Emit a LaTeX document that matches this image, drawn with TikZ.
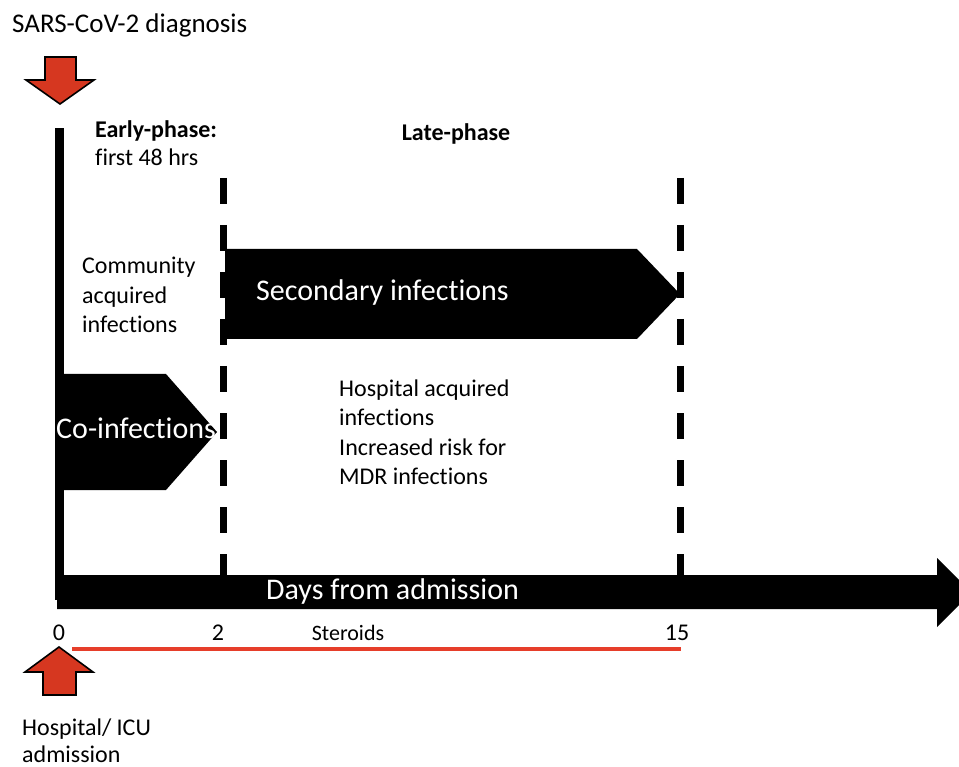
\documentclass[tikz,border=0pt]{standalone}
\usepackage{fontspec}
\setmainfont{Carlito}[Ligatures={TeX,NoCommon}]
\definecolor{arrowred}{RGB}{214,55,32}
\definecolor{linered}{RGB}{230,62,42}
\begin{document}
\begin{tikzpicture}[x=1pt,y=-1pt,
  lbl/.style={inner sep=0pt, anchor=base west, font=\fontsize{24}{29}\selectfont},
  lblb/.style={lbl, font=\fontsize{24}{29}\selectfont\bfseries},
  big/.style={inner sep=0pt, anchor=base west, text=white, font=\fontsize{30}{36}\selectfont},
  tick/.style={inner sep=0pt, anchor=base, font=\fontsize{24}{29}\selectfont},
  phaseline/.style={line width=7pt, dash pattern=on 26pt off 21pt},
  redarrow/.style={fill=arrowred, draw=black, line width=1.6pt, line join=miter},
  blackshape/.style={fill=black}
]
\useasboundingbox (0,0) rectangle (959,767);
\clip (0,0) rectangle (959,767);

% dashed phase lines
\coordinate (d1t) at (223.5,178); \coordinate (d1b) at (223.5,578);
\coordinate (d2t) at (680.5,178); \coordinate (d2b) at (680.5,578);
\draw[phaseline] (d1t) -- (d1b);
\draw[phaseline] (d2t) -- (d2b);

% secondary infections arrow
\fill[blackshape] (225,249) -- (637,249) -- (680,294) -- (637,339) -- (225,339) -- cycle;
% co-infections arrow
\fill[blackshape] (60,374) -- (166,374) -- (217,432) -- (166,490) -- (60,490) -- cycle;
% vertical axis
\fill[blackshape] (55,128) rectangle (64,600);
% days axis arrow
\fill[blackshape] (57,575) -- (937,575) -- (937,558) -- (971.5,592.5) -- (937,627) -- (937,609) -- (57,609) -- cycle;

% red arrows
\draw[redarrow] (45,57) -- (76,57) -- (76,80) -- (94,80) -- (60,104) -- (26,80) -- (45,80) -- cycle;
\draw[redarrow] (43,695) -- (76,695) -- (76,672) -- (93,672) -- (59,647) -- (25,672) -- (43,672) -- cycle;

% steroids line
\coordinate (s0) at (72,649); \coordinate (s1) at (681,649);
\draw[linered, line width=4pt] (s0) -- (s1);

% texts
\node[lbl, font=\fontsize{27}{32}\selectfont] (title) at (12,33) {SARS-CoV-2 diagnosis};
\node[lblb] (early) at (95,138) {Early-phase:};
\node[lbl] (first) at (95,166) {first 48 hrs};
\node[lblb, anchor=base] (late) at (456,141) {Late-phase};

\node[lbl] (com1) at (82,274) {Community};
\node[lbl] (com2) at (82,303.5) {acquired};
\node[lbl] (com3) at (82,333) {infections};

\node[lbl] (hosp1) at (339,396) {Hospital acquired};
\node[lbl] (hosp2) at (339,425.5) {infections};
\node[lbl] (hosp3) at (339,455) {Increased risk for};
\node[lbl] (hosp4) at (339,484.5) {MDR infections};

\node[big] (sec) at (256,301) {Secondary infections};
\node[big] (coinf) at (56,438) {Co-infections};
\node[big] (days) at (266,599) {Days from admission};

\node[tick] (t0) at (59,640) {0};
\node[tick] (t2) at (218,640) {2};
\node[tick] (t15) at (677,640) {15};
\node[tick, font=\fontsize{22}{27}\selectfont] (ster) at (348,640) {Steroids};

\node[lbl] (adm1) at (22,735) {Hospital/ ICU};
\node[lbl] (adm2) at (22,762) {admission};
\end{tikzpicture}
\end{document}
